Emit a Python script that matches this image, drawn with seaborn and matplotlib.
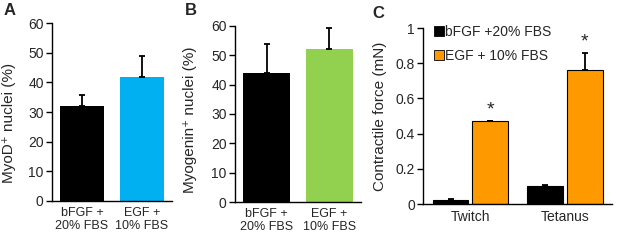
import matplotlib
matplotlib.use("Agg")
import matplotlib.pyplot as plt
import seaborn as sns
import pandas as pd
import numpy as np
from matplotlib.lines import Line2D

sns.set_style("white")
plt.rcParams['font.family'] = ['Liberation Sans', 'DejaVu Sans']

# ---- data ----
cats_ab = ["bFGF +\n20% FBS", "EGF +\n10% FBS"]
myod_vals = [32.0, 41.7]
myod_err = [3.6, 7.1]
myog_vals = [44.0, 52.0]
myog_err = [10.0, 7.3]
tests = ["Twitch", "Tetanus"]
conds = ["bFGF +20% FBS", "EGF + 10% FBS"]
force_bfgf = [0.022, 0.100]
force_bfgf_err = [0.006, 0.009]
force_egf = [0.470, 0.760]
force_egf_err = [0.004, 0.100]

colors_a = ["#000000", "#00B0F0"]
colors_b = ["#000000", "#92D050"]
colors_c = ["#000000", "#FF9900"]

YT = 10      # y tick labels
YL = 11      # y axis labels
CAP = 2.3

fig = plt.figure(figsize=(6.17, 2.4), dpi=100)
axA = fig.add_axes([0.0843, 0.1625, 0.1945, 0.7415])
axB = fig.add_axes([0.381, 0.158, 0.204, 0.734])
axC = fig.add_axes([0.686, 0.150, 0.306, 0.733])


def style_axis(ax, xlim, xfs):
    for s in ["top", "right"]:
        ax.spines[s].set_visible(False)
    for s in ["left", "bottom"]:
        ax.spines[s].set_color("black")
        ax.spines[s].set_linewidth(1.0)
    ax.set_xlim(*xlim)
    ax.set_xticks([-0.5, 0.5, 1.5], minor=True)
    ax.tick_params(axis="x", which="major", length=0, labelsize=xfs, pad=4)
    ax.tick_params(axis="x", which="minor", length=4, width=1.0, direction="out", color="black")
    ax.tick_params(axis="y", length=4, width=1.0, direction="out", color="black", labelsize=YT, left=True, pad=2)
    ax.set_xlabel("")


def simple_panel(ax, vals, errs, colors, ylabel, width, ylab_y):
    df = pd.DataFrame({"cond": cats_ab, "val": vals})
    sns.barplot(data=df, x="cond", y="val", hue="cond", palette=colors, width=width,
                errorbar=None, legend=False, ax=ax, saturation=1, linewidth=0)
    ax.errorbar(np.arange(len(vals)), vals, yerr=[np.zeros(len(vals)), errs], fmt="none",
                ecolor="black", elinewidth=1.3, capsize=CAP, capthick=1.3, zorder=5)
    style_axis(ax, (-0.5, 1.5), 9)
    ax.set_ylim(0, 60)
    ax.set_yticks(range(0, 61, 10))
    ax.set_ylabel(ylabel, fontsize=YL)
    ax.yaxis.set_label_coords(-0.30, ylab_y)


simple_panel(axA, myod_vals, myod_err, colors_a, "MyoD\u207a nuclei (%)", 0.73, 0.44)
simple_panel(axB, myog_vals, myog_err, colors_b, "Myogenin\u207a nuclei (%)", 0.76, 0.47)

# Panel C
dfc = pd.DataFrame({
    "test": tests * 2,
    "cond": [conds[0]] * 2 + [conds[1]] * 2,
    "force": force_bfgf + force_egf,
})
sns.barplot(data=dfc, x="test", y="force", hue="cond", palette=colors_c, width=0.84, gap=0.1,
            errorbar=None, legend=False, ax=axC, saturation=1, edgecolor="black", linewidth=0.8)
errs_c = [force_bfgf_err, force_egf_err]
vals_c = [force_bfgf, force_egf]
bar_conts = list(axC.containers)
for i, cont in enumerate(bar_conts):
    xs = [p.get_x() + p.get_width() / 2 for p in cont.patches]
    axC.errorbar(xs, vals_c[i], yerr=[np.zeros(2), errs_c[i]], fmt="none", ecolor="black",
                 elinewidth=1.3, capsize=CAP, capthick=1.3, zorder=5)
    if i == 1:
        for x, v, e in zip(xs, vals_c[i], errs_c[i]):
            axC.text(x, v + e + 0.015, "*", ha="center", va="bottom", fontsize=14)
style_axis(axC, (-0.5, 1.5), 10)
axC.set_ylim(0, 1)
axC.set_yticks([0, 0.2, 0.4, 0.6, 0.8, 1.0])
axC.set_yticklabels(["0", "0.2", "0.4", "0.6", "0.8", "1"])
axC.set_ylabel("Contractile force (mN)", fontsize=YL)
axC.yaxis.set_label_coords(-0.19, 0.5)
handles = [Line2D([0], [0], marker="s", linestyle="none", markersize=6.5, markerfacecolor=c,
                  markeredgecolor="black", markeredgewidth=0.6) for c in colors_c]
axC.legend(handles, conds, loc="upper left", bbox_to_anchor=(0.03, 1.05), frameon=False,
           fontsize=10, handlelength=0.6, handletextpad=0.15, labelspacing=0.75, borderaxespad=0)

fig.text(0.005, 0.955, "A", fontsize=12, fontweight="bold", ha="left", va="center")
fig.text(0.300, 0.955, "B", fontsize=12, fontweight="bold", ha="left", va="center")
fig.text(0.603, 0.945, "C", fontsize=12, fontweight="bold", ha="left", va="center")

fig.savefig("out.png", dpi=100)
